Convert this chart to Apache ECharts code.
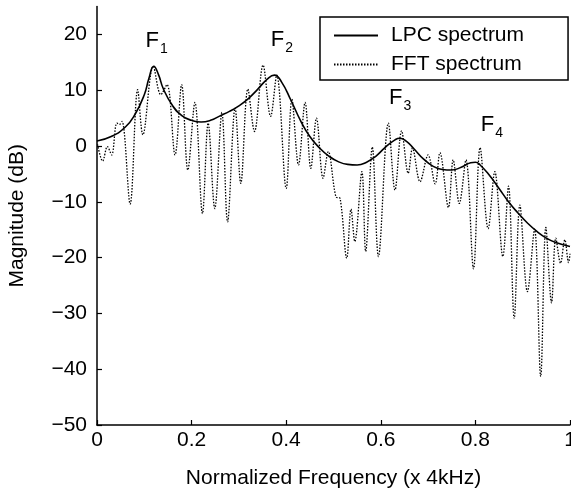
<!DOCTYPE html>
<html>
<head>
<meta charset="utf-8">
<script src="https://cdn.jsdelivr.net/npm/echarts@6/dist/echarts.min.js"></script>
<style>
html,body{margin:0;padding:0;background:#fff;}
#chart{width:571px;height:494px;}
</style>
</head>
<body>
<div id="chart"></div>
<script>
// Tick labels
var xTicks = [0, 0.2, 0.4, 0.6, 0.8, 1];
var yTicks = [-50, -40, -30, -20, -10, 0, 10, 20];

// LPC spectrum [normalized frequency, dB]
var lpcFreq = [0, 0.03, 0.06, 0.08, 0.1, 0.11, 0.12, 0.13, 0.14, 0.16, 0.18, 0.2, 0.22, 0.24, 0.26, 0.28, 0.3, 0.32, 0.34, 0.36, 0.375, 0.39, 0.41, 0.43, 0.45, 0.47, 0.49, 0.51, 0.53, 0.55, 0.57, 0.59, 0.61, 0.63, 0.64, 0.655, 0.67, 0.69, 0.71, 0.73, 0.75, 0.77, 0.79, 0.8, 0.81, 0.83, 0.85, 0.87, 0.89, 0.91, 0.93, 0.95, 0.97, 1.0];
var lpcDb = [0.9, 1.7, 3.4, 5.6, 9.2, 12.2, 14.3, 12.8, 10.3, 7.2, 5.4, 4.6, 4.3, 4.6, 5.4, 6.2, 7.2, 8.5, 10.2, 12.0, 12.7, 11.5, 8.2, 4.6, 1.7, -0.3, -1.8, -2.8, -3.3, -3.4, -2.9, -1.8, -0.2, 1.1, 1.4, 0.8, -0.5, -2.3, -3.6, -4.2, -4.3, -3.8, -3.0, -2.9, -3.4, -5.3, -7.6, -10.0, -12.0, -13.8, -15.3, -16.5, -17.3, -18.0];

// FFT spectrum [normalized frequency, dB]
var fftFreq = [0.001, 0.012, 0.022, 0.031, 0.042, 0.048, 0.053, 0.070, 0.086, 0.097, 0.119, 0.135, 0.148, 0.165, 0.179, 0.192, 0.207, 0.223, 0.235, 0.249, 0.264, 0.276, 0.292, 0.304, 0.319, 0.333, 0.351, 0.367, 0.380, 0.400, 0.412, 0.426, 0.440, 0.452, 0.464, 0.478, 0.489, 0.505, 0.514, 0.528, 0.537, 0.545, 0.560, 0.568, 0.582, 0.595, 0.616, 0.630, 0.644, 0.658, 0.667, 0.683, 0.700, 0.715, 0.725, 0.743, 0.753, 0.766, 0.780, 0.796, 0.810, 0.827, 0.841, 0.858, 0.870, 0.882, 0.894, 0.910, 0.925, 0.938, 0.949, 0.961, 0.970, 0.980, 0.989, 0.997, 1.0];
var fftDb = [0.3, -2.7, -0.1, -1.6, 4.1, 3.9, 4.4, -10.4, 10.1, 2.0, 14.3, 9.2, 11.0, -1.6, 11.0, -4.3, 7.8, -12.1, 4.1, -11.2, 6.0, -13.6, 6.8, -6.7, 10.2, 2.6, 14.5, 5.3, 12.7, -7.6, 8.4, -3.4, 7.8, -4.0, 5.0, -5.8, -1.0, -9.1, -9.4, -20.1, -11.3, -17.1, -4.6, -18.9, -0.2, -19.8, 4.1, -7.9, 2.7, -4.9, -0.4, -6.4, -1.6, -6.8, -1.2, -11.0, -2.5, -10.3, -2.5, -22.0, -0.3, -14.8, -4.6, -19.8, -7.2, -30.9, -10.6, -26.1, -14.9, -41.3, -14.6, -28.1, -16.5, -21.0, -16.8, -20.9, -19.3];

// Formant annotations
var formantNames = ['1', '2', '3', '4'];
var formantFreq = [0.126, 0.391, 0.641, 0.835];
var formantDb = [18.6, 18.8, 8.4, 3.6];

function pairs(a, b) { return a.map(function (v, i) { return [v, b[i]]; }); }
function minus(v) { return String(v).replace('-', '\u2212'); }

var FONT = 'Liberation Sans, Arial, Helvetica, sans-serif';
var FS = 21;
var chart = echarts.init(document.getElementById('chart'), null, {renderer: 'canvas'});

var markData = formantNames.map(function (n, i) {
  return {coord: [formantFreq[i], formantDb[i]], value: n};
});

chart.setOption({
  animation: false,
  backgroundColor: '#fff',
  textStyle: {fontFamily: FONT},
  grid: {left: 97, right: 1, top: 6.5, bottom: 69, containLabel: false, outerBoundsMode: 'none'},
  legend: {
    left: 320, top: 17, orient: 'vertical',
    padding: [8, 44, 5, 13],
    itemGap: 8, itemWidth: 44, itemHeight: 14,
    borderColor: '#000', borderWidth: 1.5, backgroundColor: '#fff',
    itemStyle: {opacity: 0},
    textStyle: {fontFamily: FONT, fontSize: FS, color: '#000', padding: [0, 0, 0, 8]},
    data: ['LPC spectrum', 'FFT spectrum']
  },
  xAxis: {
    type: 'value', min: 0, max: 1, interval: 0.2,
    name: 'Normalized Frequency (x 4kHz)', nameLocation: 'middle', nameGap: 43,
    nameTextStyle: {fontFamily: FONT, fontSize: FS, color: '#000'},
    axisLine: {onZero: false, lineStyle: {color: '#000', width: 1.5}},
    axisTick: {inside: true, length: 5, lineStyle: {color: '#000', width: 1.2}, customValues: xTicks},
    axisLabel: {margin: 5, fontFamily: FONT, fontSize: FS, color: '#000', customValues: xTicks,
      formatter: function (v) { return String(v); }},
    splitLine: {show: false}
  },
  yAxis: {
    type: 'value', min: -50, max: 25, interval: 10,
    name: 'Magnitude (dB)', nameLocation: 'middle', nameGap: 69, nameRotate: 90,
    nameTextStyle: {fontFamily: FONT, fontSize: FS, color: '#000'},
    axisLine: {onZero: false, lineStyle: {color: '#000', width: 1.5}},
    axisTick: {inside: true, length: 5, lineStyle: {color: '#000', width: 1.2}, customValues: yTicks},
    axisLabel: {margin: 10, fontFamily: FONT, fontSize: FS, color: '#000', customValues: yTicks,
      formatter: minus},
    splitLine: {show: false}
  },
  series: [
    {
      name: 'FFT spectrum', type: 'line', data: pairs(fftFreq, fftDb),
      showSymbol: false, symbol: 'none', smooth: 0.35, z: 2,
      lineStyle: {color: '#000', width: 1.3, type: [1.5, 1.5]},
      itemStyle: {color: '#000'}
    },
    {
      name: 'LPC spectrum', type: 'line', data: pairs(lpcFreq, lpcDb),
      showSymbol: false, symbol: 'none', smooth: 0.5, z: 3,
      lineStyle: {color: '#000', width: 1.6},
      itemStyle: {color: '#000'},
      markPoint: {
        symbol: 'circle', symbolSize: 0,
        label: {
          show: true, position: 'inside',
          formatter: function (p) { return '{f|F}{s|' + p.value + '}'; },
          rich: {
            f: {fontFamily: FONT, fontSize: 22, color: '#000', verticalAlign: 'top', lineHeight: 24},
            s: {fontFamily: FONT, fontSize: 14, color: '#000', verticalAlign: 'top', padding: [12, 0, 0, 1], lineHeight: 14}
          }
        },
        data: markData
      }
    }
  ]
});
</script>
</body>
</html>
